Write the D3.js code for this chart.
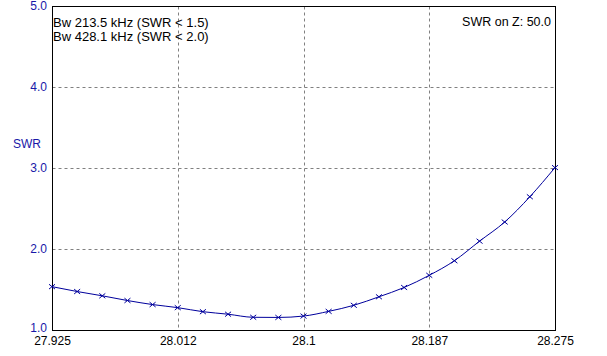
<!DOCTYPE html>
<html><head><meta charset="utf-8">
<script src="https://cdn.jsdelivr.net/npm/d3@7/dist/d3.min.js"></script>
<style>
html,body{margin:0;padding:0;background:#fff;}
svg{display:block;}
text{font-family:Arial,"Liberation Sans",sans-serif;}
</style></head>
<body>
<script>
const freqs = [27.925, 27.9425, 27.96, 27.9775, 27.995, 28.0125, 28.03, 28.0475, 28.065, 28.0825, 28.1,
               28.1175, 28.135, 28.1525, 28.17, 28.1875, 28.205, 28.2225, 28.24, 28.2575, 28.275];
const swr = [1.535, 1.475, 1.422, 1.364, 1.314, 1.276, 1.226, 1.195, 1.157, 1.155, 1.172,
             1.230, 1.305, 1.410, 1.525, 1.675, 1.855, 2.097, 2.333, 2.645, 3.005];
const xTicks = [27.925, 28.0125, 28.1, 28.1875, 28.275];
const xTickLabels = ["27.925", "28.012", "28.1", "28.187", "28.275"];
const yTicks = [1, 2, 3, 4, 5];
const yTickLabels = ["1.0", "2.0", "3.0", "4.0", "5.0"];
const infoLines = ["Bw 213.5 kHz (SWR < 1.5)", "Bw 428.1 kHz (SWR < 2.0)"];
const zLabel = "SWR on Z: 50.0";
const yTitle = "SWR";

const W = 607, H = 356;
const L = 52, R = 555, T = 6, B = 330;
const svg = d3.select("body").append("svg").attr("width", W).attr("height", H);
const x = d3.scaleLinear().domain([27.925, 28.275]).range([L, R]);
const y = d3.scaleLinear().domain([1, 5]).range([B, T]);
const g = svg.append("g").attr("transform", "translate(0.5,0.5)");

// grid
g.selectAll(".vg").data(xTicks.slice(1, -1)).enter().append("line")
  .attr("x1", d => Math.round(x(d))).attr("x2", d => Math.round(x(d)))
  .attr("y1", T).attr("y2", B)
  .attr("stroke", "#808080").attr("stroke-dasharray", "3,3");
g.selectAll(".hg").data(yTicks.slice(1, -1)).enter().append("line")
  .attr("y1", d => Math.round(y(d))).attr("y2", d => Math.round(y(d)))
  .attr("x1", L).attr("x2", R)
  .attr("stroke", "#808080").attr("stroke-dasharray", "3,3");

// frame
g.append("rect").attr("x", L).attr("y", T).attr("width", R - L).attr("height", B - T)
  .attr("fill", "none").attr("stroke", "#000");

// curve
const line = d3.line().x((d, i) => x(freqs[i])).y(d => y(d)).curve(d3.curveMonotoneX);
svg.append("path").datum(swr).attr("d", line)
  .attr("fill", "none").attr("stroke", "#00009c").attr("stroke-width", 1);

// markers
const s = 3;
svg.selectAll(".mk").data(swr).enter().append("path")
  .attr("d", (d, i) => {
    const cx = x(freqs[i]), cy = y(d);
    return `M${cx - s},${cy - s * 0.8}L${cx + s},${cy + s * 0.8}M${cx - s},${cy + s * 0.8}L${cx + s},${cy - s * 0.8}`;
  })
  .attr("stroke", "#00009c").attr("stroke-width", 1).attr("fill", "none");

// axis labels
const xa = d3.axisBottom(x).tickValues(xTicks).tickFormat((d, i) => xTickLabels[i]).tickSize(0).tickPadding(0);
const xg = svg.append("g").attr("transform", `translate(0,${B})`).call(xa);
xg.select(".domain").remove();
xg.selectAll("text").attr("dy", null).attr("y", 15).attr("fill", "#000")
  .style("font-size", "12px").style("font-family", "Arial, 'Liberation Sans', sans-serif");

const ya = d3.axisLeft(y).tickValues(yTicks).tickFormat((d, i) => yTickLabels[i]).tickSize(0).tickPadding(0);
const yg = svg.append("g").attr("transform", `translate(${L - 5},0)`).call(ya);
yg.select(".domain").remove();
yg.selectAll("text").attr("fill", "#1818a8").attr("dy", (d, i) => i === 0 ? "0.12em" : "0.3em")
  .style("font-size", "12px").style("font-family", "Arial, 'Liberation Sans', sans-serif");

svg.append("text").attr("x", 13).attr("y", 148).attr("fill", "#1818a8")
  .style("font-size", "12px").text(yTitle);

svg.selectAll(".info").data(infoLines).enter().append("text")
  .attr("x", 53).attr("y", (d, i) => 27 + i * 14)
  .attr("fill", "#000").style("font-size", "13px").text(d => d);

svg.append("text").attr("x", 551).attr("y", 26).attr("text-anchor", "end")
  .attr("fill", "#000").style("font-size", "12.5px").text(zLabel);
</script>
</body></html>
